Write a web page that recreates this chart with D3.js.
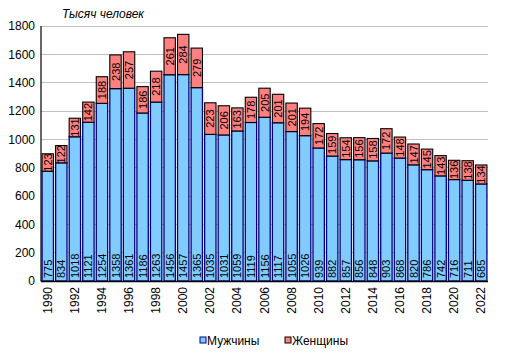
<!DOCTYPE html>
<html><head><meta charset="utf-8">
<script src="https://cdn.jsdelivr.net/npm/d3@7"></script>
<style>body{margin:0;background:#fff;}svg{display:block;font-family:Arial,"Liberation Sans",sans-serif;}</style>
</head><body>
<svg id="c" width="515" height="360"></svg>
<script>
const years = [1990,1991,1992,1993,1994,1995,1996,1997,1998,1999,2000,2001,2002,2003,2004,2005,2006,2007,2008,2009,2010,2011,2012,2013,2014,2015,2016,2017,2018,2019,2020,2021,2022];
const men = [775,834,1018,1121,1254,1358,1361,1186,1263,1456,1457,1365,1035,1031,1059,1119,1156,1117,1055,1026,939,882,857,856,848,903,868,820,786,742,716,711,685];
const women = [123,122,131,142,188,238,257,186,218,261,284,279,223,206,163,178,205,201,201,194,172,159,154,156,158,172,148,147,145,143,136,138,134];
const yTicks = [0,200,400,600,800,1000,1200,1400,1600,1800];
const seriesNames = ["Мужчины","Женщины"];
const unitTitle = "Тысяч человек";

const svg = d3.select("#c");
const L=41,R=488,T=26,B=281;
const x = d3.scaleBand().domain(years).range([L,R]).paddingInner(0.16).paddingOuter(0.08);
const y = d3.scaleLinear().domain([0,1800]).range([B,T]);

// grid
svg.append("g").selectAll("line").data(yTicks.filter(d=>d>0)).join("line")
  .attr("x1",L).attr("x2",R).attr("y1",d=>y(d)).attr("y2",d=>y(d))
  .attr("stroke","#c0c0c0").attr("stroke-width",1).attr("shape-rendering","crispEdges");

// y axis labels
const ya = svg.append("g").attr("transform",`translate(${L},0)`)
  .call(d3.axisLeft(y).tickValues(yTicks).tickFormat(d3.format("d")).tickSize(0).tickPadding(6));
ya.select(".domain").remove();
ya.selectAll("text").attr("font-size",12).attr("fill","#000").style("font-family","Arial,'Liberation Sans',sans-serif");

const g = svg.append("g");
// men bars
g.selectAll("rect.m").data(years).join("rect").attr("class","m")
  .attr("x",d=>x(d)).attr("width",x.bandwidth())
  .attr("y",(d,i)=>y(men[i])).attr("height",(d,i)=>B-y(men[i]))
  .attr("fill","#80ccff").attr("stroke","#000080").attr("stroke-width",1.3);
// women bars
g.selectAll("rect.w").data(years).join("rect").attr("class","w")
  .attr("x",d=>x(d)).attr("width",x.bandwidth())
  .attr("y",(d,i)=>y(men[i]+women[i])).attr("height",(d,i)=>y(men[i])-y(men[i]+women[i]))
  .attr("fill","#ff8080").attr("stroke","#000").attr("stroke-width",1.1);

// men labels
g.selectAll("text.ml").data(years).join("text").attr("class","ml")
  .attr("transform",(d,i)=>`translate(${x(d)+x.bandwidth()/2+4},${B-3}) rotate(-90)`)
  .attr("font-size",11).attr("text-anchor","start").attr("fill","#000")
  .text((d,i)=>men[i]);
// women labels
g.selectAll("text.wl").data(years).join("text").attr("class","wl")
  .attr("transform",(d,i)=>`translate(${x(d)+x.bandwidth()/2+4},${(y(men[i])+y(men[i]+women[i]))/2}) rotate(-90)`)
  .attr("font-size",11).attr("text-anchor","middle").attr("fill","#000")
  .text((d,i)=>women[i]);

// axes lines
svg.append("line").attr("x1",L).attr("x2",L).attr("y1",T).attr("y2",B+0.5).attr("stroke","#000").attr("stroke-width",1.2);
svg.append("line").attr("x1",L).attr("x2",R).attr("y1",B+0.5).attr("y2",B+0.5).attr("stroke","#000").attr("stroke-width",1.5);

// x labels
const xa = svg.append("g").attr("transform",`translate(0,${B})`)
  .call(d3.axisBottom(x).tickValues(years.filter(d=>d%2===0)).tickSize(0).tickPadding(0));
xa.select(".domain").remove();
xa.selectAll("text").attr("font-size",12).attr("fill","#000")
  .style("font-family","Arial,'Liberation Sans',sans-serif")
  .attr("text-anchor","end").attr("dy",null)
  .attr("transform","translate(4,6) rotate(-90)").attr("y",0).attr("x",0);

// title
svg.append("text").attr("x",62).attr("y",18).attr("font-size",12).attr("font-style","italic").text(unitTitle);

// legend
const legX=[200,285], colors=["#80ccff","#ff8080"], strokes=["#000080","#000"];
seriesNames.forEach((n,i)=>{
  svg.append("rect").attr("x",legX[i]).attr("y",337).attr("width",6).attr("height",6)
    .attr("fill",colors[i]).attr("stroke",strokes[i]).attr("stroke-width",1);
  svg.append("text").attr("x",legX[i]+7).attr("y",345).attr("font-size",12).attr("fill","#000").text(n);
});
</script>
</body></html>
